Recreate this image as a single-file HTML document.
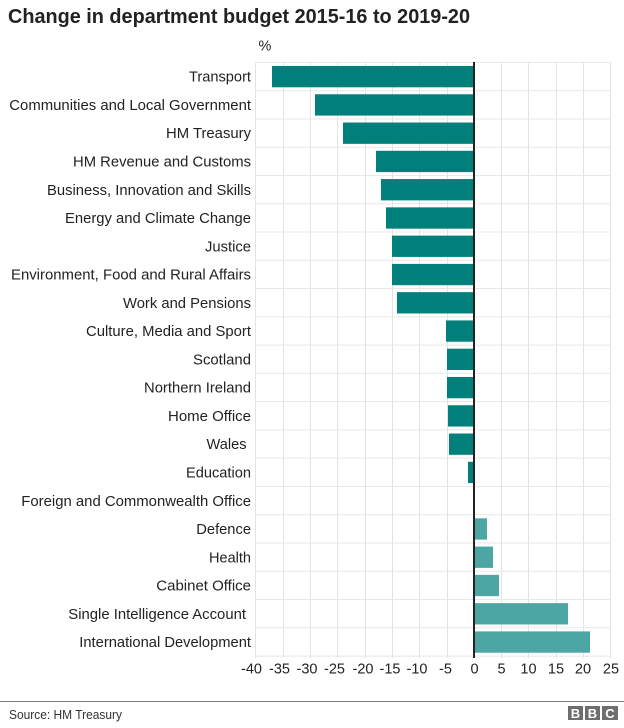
<!DOCTYPE html>
<html>
<head>
<meta charset="utf-8">
<style>
  html, body { margin:0; padding:0; background:#fff; }
  svg { display:block; }
  text { font-family: "Liberation Sans", Arial, sans-serif; }
</style>
</head>
<body>
<svg width="624" height="728" viewBox="0 0 624 728" xmlns="http://www.w3.org/2000/svg">
  <rect x="0" y="0" width="624" height="728" fill="#fff"/>
  <!-- Title -->
  <text x="8" y="23" font-size="20" font-weight="bold" fill="#222" textLength="462" lengthAdjust="spacingAndGlyphs">Change in department budget 2015-16 to 2019-20</text>
  <text x="258.5" y="50.5" font-size="14.5" fill="#222">%</text>

  <!-- vertical gridlines -->
  <g stroke="#e3e3e3" stroke-width="1">
    <line x1="255.5" y1="62" x2="255.5" y2="658"/>
    <line x1="283.5" y1="62" x2="283.5" y2="658"/>
    <line x1="310.5" y1="62" x2="310.5" y2="658"/>
    <line x1="337.5" y1="62" x2="337.5" y2="658"/>
    <line x1="365.5" y1="62" x2="365.5" y2="658"/>
    <line x1="392.5" y1="62" x2="392.5" y2="658"/>
    <line x1="419.5" y1="62" x2="419.5" y2="658"/>
    <line x1="447.5" y1="62" x2="447.5" y2="658"/>
    <line x1="501.5" y1="62" x2="501.5" y2="658"/>
    <line x1="528.5" y1="62" x2="528.5" y2="658"/>
    <line x1="556.5" y1="62" x2="556.5" y2="658"/>
    <line x1="583.5" y1="62" x2="583.5" y2="658"/>
    <line x1="610.5" y1="62" x2="610.5" y2="658"/>
  </g>
  <!-- horizontal row lines -->
  <g stroke="#e8e8e8" stroke-width="1">
    <line x1="255" y1="62.4" x2="611" y2="62.4"/>
    <line x1="255" y1="90.67" x2="611" y2="90.67"/>
    <line x1="255" y1="118.94" x2="611" y2="118.94"/>
    <line x1="255" y1="147.21" x2="611" y2="147.21"/>
    <line x1="255" y1="175.48" x2="611" y2="175.48"/>
    <line x1="255" y1="203.75" x2="611" y2="203.75"/>
    <line x1="255" y1="232.02" x2="611" y2="232.02"/>
    <line x1="255" y1="260.29" x2="611" y2="260.29"/>
    <line x1="255" y1="288.56" x2="611" y2="288.56"/>
    <line x1="255" y1="316.83" x2="611" y2="316.83"/>
    <line x1="255" y1="345.1" x2="611" y2="345.1"/>
    <line x1="255" y1="373.37" x2="611" y2="373.37"/>
    <line x1="255" y1="401.64" x2="611" y2="401.64"/>
    <line x1="255" y1="429.91" x2="611" y2="429.91"/>
    <line x1="255" y1="458.18" x2="611" y2="458.18"/>
    <line x1="255" y1="486.45" x2="611" y2="486.45"/>
    <line x1="255" y1="514.72" x2="611" y2="514.72"/>
    <line x1="255" y1="542.99" x2="611" y2="542.99"/>
    <line x1="255" y1="571.26" x2="611" y2="571.26"/>
    <line x1="255" y1="599.53" x2="611" y2="599.53"/>
    <line x1="255" y1="627.8" x2="611" y2="627.8"/>
    <line x1="255" y1="656.07" x2="611" y2="656.07"/>
  </g>

  <!-- bars negative -->
  <g fill="#007f7b">
    <rect x="272" y="66" width="201" height="21.3"/>
    <rect x="315" y="94.27" width="158" height="21.3"/>
    <rect x="343" y="122.54" width="130" height="21.3"/>
    <rect x="376" y="150.81" width="97" height="21.3"/>
    <rect x="381" y="179.08" width="92" height="21.3"/>
    <rect x="386" y="207.35" width="87" height="21.3"/>
    <rect x="392" y="235.62" width="81" height="21.3"/>
    <rect x="392" y="263.89" width="81" height="21.3"/>
    <rect x="397" y="292.16" width="76" height="21.3"/>
    <rect x="446" y="320.43" width="27" height="21.3"/>
    <rect x="447" y="348.7" width="26" height="21.3"/>
    <rect x="447" y="376.97" width="26" height="21.3"/>
    <rect x="448" y="405.24" width="25" height="21.3"/>
    <rect x="449" y="433.51" width="24" height="21.3"/>
    <rect x="468" y="461.78" width="5" height="21.3"/>
  </g>
  <!-- bars positive -->
  <g fill="#4ca6a4">
    <rect x="475" y="518.32" width="12" height="21.3"/>
    <rect x="475" y="546.59" width="18" height="21.3"/>
    <rect x="475" y="574.86" width="24" height="21.3"/>
    <rect x="475" y="603.13" width="93" height="21.3"/>
    <rect x="475" y="631.4" width="115" height="21.3"/>
  </g>

  <!-- zero line -->
  <rect x="473" y="62" width="2" height="596" fill="#222"/>

  <!-- category labels -->
  <g font-size="14.8" fill="#222" text-anchor="end">
    <text x="251" y="81.7" textLength="62" lengthAdjust="spacingAndGlyphs">Transport</text>
    <text x="251" y="109.97" textLength="241.7" lengthAdjust="spacingAndGlyphs">Communities and Local Government</text>
    <text x="251" y="138.24" textLength="85" lengthAdjust="spacingAndGlyphs">HM Treasury</text>
    <text x="251" y="166.51" textLength="178" lengthAdjust="spacingAndGlyphs">HM Revenue and Customs</text>
    <text x="251" y="194.78" textLength="204" lengthAdjust="spacingAndGlyphs">Business, Innovation and Skills</text>
    <text x="251" y="223.05" textLength="186" lengthAdjust="spacingAndGlyphs">Energy and Climate Change</text>
    <text x="251" y="251.32" textLength="46" lengthAdjust="spacingAndGlyphs">Justice</text>
    <text x="251" y="279.59" textLength="240" lengthAdjust="spacingAndGlyphs">Environment, Food and Rural Affairs</text>
    <text x="251" y="307.86" textLength="128" lengthAdjust="spacingAndGlyphs">Work and Pensions</text>
    <text x="251" y="336.13" textLength="165" lengthAdjust="spacingAndGlyphs">Culture, Media and Sport</text>
    <text x="251" y="364.4" textLength="58" lengthAdjust="spacingAndGlyphs">Scotland</text>
    <text x="251" y="392.67" textLength="107" lengthAdjust="spacingAndGlyphs">Northern Ireland</text>
    <text x="251" y="420.94" textLength="83" lengthAdjust="spacingAndGlyphs">Home Office</text>
    <text x="246.5" y="449.21" textLength="40" lengthAdjust="spacingAndGlyphs">Wales</text>
    <text x="251" y="477.48" textLength="65" lengthAdjust="spacingAndGlyphs">Education</text>
    <text x="251" y="505.75" textLength="229.7" lengthAdjust="spacingAndGlyphs">Foreign and Commonwealth Office</text>
    <text x="251" y="534.02" textLength="54.7" lengthAdjust="spacingAndGlyphs">Defence</text>
    <text x="251" y="562.29" textLength="42" lengthAdjust="spacingAndGlyphs">Health</text>
    <text x="251" y="590.56" textLength="94.7" lengthAdjust="spacingAndGlyphs">Cabinet Office</text>
    <text x="246" y="618.83" textLength="177.7" lengthAdjust="spacingAndGlyphs">Single Intelligence Account</text>
    <text x="251" y="647.1" textLength="171.7" lengthAdjust="spacingAndGlyphs">International Development</text>
  </g>

  <!-- x tick labels -->
  <g font-size="14.5" fill="#222" text-anchor="middle">
    <text x="251.5" y="673.5">-40</text>
    <text x="279.5" y="673.5">-35</text>
    <text x="307" y="673.5">-30</text>
    <text x="334.5" y="673.5">-25</text>
    <text x="363" y="673.5">-20</text>
    <text x="390" y="673.5">-15</text>
    <text x="417" y="673.5">-10</text>
    <text x="445.5" y="673.5">-5</text>
    <text x="474.5" y="673.5">0</text>
    <text x="501.5" y="673.5">5</text>
    <text x="528.5" y="673.5">10</text>
    <text x="556" y="673.5">15</text>
    <text x="583" y="673.5">20</text>
    <text x="611" y="673.5">25</text>
  </g>

  <!-- footer -->
  <rect x="0" y="701" width="624" height="1" fill="#7a7a7a"/>
  <text x="9" y="719" font-size="12.5" fill="#333" textLength="113" lengthAdjust="spacingAndGlyphs">Source: HM Treasury</text>
  <g>
    <rect x="568" y="706" width="15" height="14" fill="#6e6e6e"/>
    <rect x="585" y="706" width="15" height="14" fill="#6e6e6e"/>
    <rect x="602" y="706" width="16" height="14" fill="#6e6e6e"/>
    <g font-size="13" font-weight="bold" fill="#fff" text-anchor="middle">
      <text x="575.5" y="718">B</text>
      <text x="592.5" y="718">B</text>
      <text x="610" y="718">C</text>
    </g>
  </g>
</svg>
</body>
</html>
